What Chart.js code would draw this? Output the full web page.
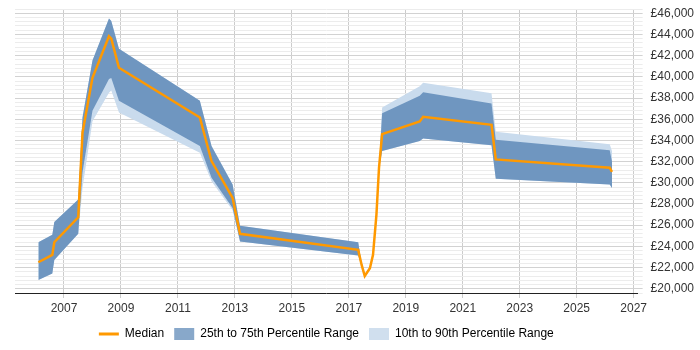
<!DOCTYPE html>
<html>
<head>
<meta charset="utf-8">
<script src="https://cdn.jsdelivr.net/npm/chart.js@4/dist/chart.umd.min.js"></script>
<style>
  html, body { margin: 0; padding: 0; background: #ffffff; }
  #wrap { width: 700px; height: 350px; position: relative; }
</style>
</head>
<body>
<div id="wrap"><canvas id="c" width="700" height="350"></canvas></div>
<script>
// ---- data ----
const years  = [2006.10, 2006.59, 2006.66, 2007.50, 2007.65, 2008.00, 2008.58, 2008.66, 2008.93, 2011.77, 2012.18, 2012.92, 2013.18, 2017.33, 2017.45, 2017.56, 2017.74, 2017.85, 2017.97, 2018.06, 2018.17, 2019.49, 2019.61, 2022.01, 2022.16, 2026.16, 2026.24];
const median = [22500, 23200, 24390, 26740, 34740, 39900, 43820, 43600, 40850, 36160, 32050, 28570, 25190, 23670, 22250, 21200, 21930, 23200, 27000, 31420, 34590, 35780, 36230, 35470, 32210, 31420, 31040];
const p25    = [20830, 21450, 22720, 25190, 31000, 36800, 39800, 39900, 37750, 33480, 30470, 27620, 24460, 23130, 22150, 21100, 21830, 23100, 26900, 31300, 33000, 33950, 34170, 33540, 30370, 29840, 29520];
const p75    = [24390, 25100, 26290, 28420, 36160, 41540, 45500, 45270, 42650, 37750, 33480, 29840, 25950, 24390, 22350, 21300, 22030, 23300, 27100, 31540, 36560, 38220, 38540, 37490, 34060, 33070, 32000];
const p10    = [20830, 21450, 22720, 25190, 29500, 35800, 38500, 38700, 36640, 32840, 30150, 27400, 24460, 23130, 22150, 21100, 21830, 23100, 26900, 31300, 33000, 33950, 34170, 33540, 30370, 29840, 29520];
const p90    = [24390, 25100, 26290, 28420, 36160, 41540, 45500, 45270, 42650, 37750, 33480, 29840, 25950, 24390, 22350, 21300, 22030, 23300, 27100, 31540, 37110, 39100, 39430, 38440, 34820, 33640, 33000];
const xTickYears = [2007, 2009, 2011, 2013, 2015, 2017, 2019, 2021, 2023, 2025, 2027];
const legendLabels = ['Median', '25th to 75th Percentile Range', '10th to 90th Percentile Range'];

// ---- styles ----
const MEDIAN_COLOR = '#FF9900';
const DARK_BAND = '#6F96C0';
const LIGHT_BAND = '#C9DBED';
const DARK_LEGEND = '#88A8CA';
const LIGHT_LEGEND = '#D0DFEE';

const pts = arr => years.map((y, i) => ({ x: y, y: arr[i] }));

Chart.defaults.font.family = '"Liberation Sans", Arial, sans-serif';
Chart.defaults.font.size = 12;
Chart.defaults.color = '#333333';

const medianLegendLine = {
  id: 'medianLegendLine',
  afterDraw(chart) {
    const lg = chart.legend;
    if (!lg || !lg.legendHitBoxes || !lg.legendHitBoxes.length) return;
    const hb = lg.legendHitBoxes[0];
    const ctx = chart.ctx;
    ctx.save();
    ctx.strokeStyle = MEDIAN_COLOR;
    ctx.lineWidth = 3;
    const y = hb.top + hb.height / 2;
    ctx.beginPath();
    ctx.moveTo(hb.left, y);
    ctx.lineTo(hb.left + 20, y);
    ctx.stroke();
    ctx.restore();
  }
};

new Chart(document.getElementById('c'), {
  type: 'line',
  data: {
    datasets: [
      { label: legendLabels[0], data: pts(median), borderColor: MEDIAN_COLOR, borderWidth: 2.5, pointRadius: 0, fill: false, order: 0, tension: 0 },
      { label: legendLabels[1], data: pts(p75), borderWidth: 0, borderColor: 'rgba(0,0,0,0)', backgroundColor: DARK_BAND, pointRadius: 0, fill: '+1', order: 1 },
      { label: 'p25', data: pts(p25), borderWidth: 0, borderColor: 'rgba(0,0,0,0)', pointRadius: 0, fill: false, order: 1 },
      { label: legendLabels[2], data: pts(p90), borderWidth: 0, borderColor: 'rgba(0,0,0,0)', backgroundColor: LIGHT_BAND, pointRadius: 0, fill: '+1', order: 2 },
      { label: 'p10', data: pts(p10), borderWidth: 0, borderColor: 'rgba(0,0,0,0)', pointRadius: 0, fill: false, order: 2 }
    ]
  },
  options: {
    responsive: false,
    animation: false,
    events: [],
    layout: { padding: { left: 15, right: -2, top: 9, bottom: 0 } },
    scales: {
      x: {
        type: 'linear',
        min: 2005.28,
        max: 2027.14,
        afterBuildTicks: s => { s.ticks = xTickYears.map(v => ({ value: v })); },
        afterFit: s => { s.height = 25; },
        ticks: { autoSkip: false, maxRotation: 0, padding: 3, color: '#333', callback: v => String(v) },
        grid: { color: '#cccccc', tickLength: 5, tickColor: '#cccccc' },
        border: { display: true, color: '#222222', width: 1 }
      },
      y: {
        position: 'right',
        min: 19600,
        max: 46400,
        afterBuildTicks: s => {
          const t = [];
          for (let v = 19600; v <= 46400; v += 400) t.push({ value: v });
          s.ticks = t;
        },
        afterFit: s => { s.paddingTop = 0; s.paddingBottom = 0; },
        ticks: {
          autoSkip: false,
          padding: 8,
          color: '#333',
          callback: v => (v % 2000 === 0 ? '£' + v.toLocaleString('en-GB') : '')
        },
        grid: {
          tickLength: 5,
          color: c => (c.tick && c.tick.value % 2000 === 0 ? '#d2d2d2' : '#ececec'),
          tickColor: c => (c.tick && c.tick.value % 2000 === 0 ? '#d2d2d2' : '#ececec')
        },
        border: { display: false }
      }
    },
    plugins: {
      tooltip: { enabled: false },
      legend: {
        position: 'bottom',
        fullSize: false,
        labels: {
          boxWidth: 20,
          boxHeight: 12,
          padding: 10,
          color: '#333',
          generateLabels: () => [
            { text: legendLabels[0], fillStyle: 'rgba(0,0,0,0)', strokeStyle: 'rgba(0,0,0,0)', lineWidth: 0, datasetIndex: 0, hidden: false },
            { text: legendLabels[1], fillStyle: DARK_LEGEND, strokeStyle: DARK_LEGEND, lineWidth: 0, datasetIndex: 1, hidden: false },
            { text: legendLabels[2], fillStyle: LIGHT_LEGEND, strokeStyle: LIGHT_LEGEND, lineWidth: 0, datasetIndex: 3, hidden: false }
          ]
        }
      }
    }
  },
  plugins: [medianLegendLine]
});
</script>
</body>
</html>
